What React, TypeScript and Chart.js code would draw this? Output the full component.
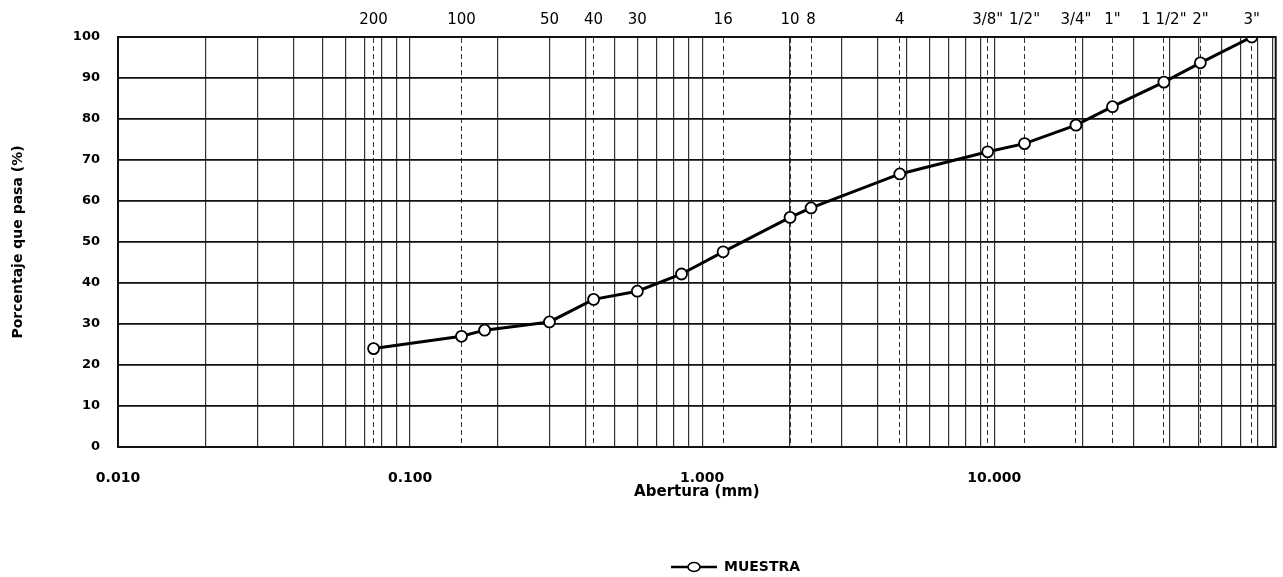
import React, { useEffect, useRef } from 'react';
import { Chart, registerables } from 'chart.js';

Chart.register(...registerables);

// Abertura del tamiz (mm) y porcentaje que pasa
const aperturaMm = [0.075, 0.15, 0.18, 0.3, 0.425, 0.6, 0.85, 1.18, 2.0, 2.36, 4.75, 9.5, 12.7, 19.05, 25.4, 38.1, 50.8, 76.2];
const porcentajePasa = [24, 27, 28.5, 30.5, 36, 38, 42.2, 47.6, 56, 58.3, 66.6, 72, 74, 78.5, 83, 89, 93.7, 100];

// Tamices (eje superior)
const sieveSizes = [0.075, 0.15, 0.3, 0.425, 0.6, 1.18, 2.0, 2.36, 4.75, 9.5, 12.7, 19.05, 25.4, 38.1, 50.8, 76.2];
const sieveLabels = ['200', '100', '50', '40', '30', '16', '10', '8', '4', '3/8"', '1/2"', '3/4"', '1"', '1 1/2"', '2"', '3"'];

// Ejes
const xLabelValues = [0.01, 0.1, 1, 10];
const yTickValues = [0, 10, 20, 30, 40, 50, 60, 70, 80, 90, 100];
const xMin = 0.01;
const xMax = 92;

const FONT = "'DejaVu Sans', 'Liberation Sans', Arial, sans-serif";

function logGridValues(min: number, max: number): number[] {
  const out: number[] = [];
  for (let e = -2; e <= 2; e++) {
    for (let m = 1; m <= 9; m++) {
      const v = Number((m * Math.pow(10, e)).toPrecision(3));
      if (v >= min - 1e-12 && v <= max) out.push(v);
    }
  }
  return out;
}

export default function App() {
  const canvasRef = useRef<HTMLCanvasElement | null>(null);

  useEffect(() => {
    const canvas = canvasRef.current;
    if (!canvas) return;

    // legend symbol: line with open circle
    const sym = document.createElement('canvas');
    sym.width = 46;
    sym.height = 12;
    const sctx = sym.getContext('2d')!;
    sctx.strokeStyle = '#000';
    sctx.lineWidth = 2.5;
    sctx.beginPath();
    sctx.moveTo(0, 6);
    sctx.lineTo(46, 6);
    sctx.stroke();
    sctx.beginPath();
    sctx.ellipse(23, 6, 6, 4.5, 0, 0, Math.PI * 2);
    sctx.fillStyle = '#fff';
    sctx.fill();
    sctx.lineWidth = 1.6;
    sctx.stroke();

    const frame = {
      id: 'frame',
      afterDatasetsDraw(chart: any) {
        const { ctx, chartArea } = chart;
        ctx.save();
        ctx.strokeStyle = '#111';
        ctx.lineWidth = 2;
        ctx.strokeRect(chartArea.left, chartArea.top, chartArea.right - chartArea.left, chartArea.bottom - chartArea.top);
        ctx.restore();
      },
    };

    const legendShift = {
      id: 'legendShift',
      afterLayout(chart: any) {
        const lg = chart.legend;
        if (!lg) return;
        lg.left += 94;
        lg.right += 94;
        lg.top += 7;
        lg.bottom += 7;
      },
    };

    const chart = new Chart(canvas, {
      type: 'line',
      data: {
        datasets: [
          {
            label: 'MUESTRA',
            data: aperturaMm.map((x, i) => ({ x, y: porcentajePasa[i] })),
            borderColor: '#000',
            borderWidth: 3,
            pointRadius: 5.5,
            pointBackgroundColor: '#fff',
            pointBorderColor: '#000',
            pointBorderWidth: 1.8,
            tension: 0,
            xAxisID: 'x',
            yAxisID: 'y',
          },
        ],
      },
      options: {
        animation: false,
        responsive: true,
        maintainAspectRatio: false,
        layout: { padding: { left: 0, right: 0, top: 0, bottom: 0 } },
        plugins: {
          legend: {
            position: 'bottom',
            labels: {
              usePointStyle: true,
              pointStyleWidth: 46,
              padding: 4,
              color: '#000',
              font: { family: FONT, size: 14, weight: 'bold' },
              generateLabels: () => [
                {
                  text: 'MUESTRA',
                  pointStyle: sym as any,
                  fillStyle: '#fff',
                  strokeStyle: '#000',
                  lineWidth: 0,
                  hidden: false,
                  datasetIndex: 0,
                  fontColor: '#000',
                } as any,
              ],
            },
          },
          tooltip: { enabled: false },
        },
        scales: {
          x: {
            type: 'logarithmic',
            position: 'bottom',
            min: xMin,
            max: xMax,
            afterBuildTicks: (scale: any) => {
              scale.ticks = logGridValues(xMin, xMax).map((v) => ({ value: v }));
            },
            afterFit: (scale: any) => {
              scale.height = 102;
            },
            ticks: {
              autoSkip: false,
              maxRotation: 0,
              padding: 3,
              color: '#000',
              font: { family: FONT, size: 14, weight: 'bold' },
              callback: (value: any) =>
                xLabelValues.some((v) => Math.abs(v - Number(value)) < 1e-9) ? Number(value).toFixed(3) : '',
            },
            grid: { color: '#333', lineWidth: 1.2, drawTicks: true, tickLength: 20, tickColor: 'rgba(0,0,0,0)' },
            border: { display: true, color: '#111', width: 2 },
            title: {
              display: true,
              text: 'Abertura (mm)',
              color: '#000',
              font: { family: FONT, size: 15, weight: 'bold' },
              padding: { top: 0, bottom: 48 },
            },
          },
          x2: {
            type: 'logarithmic',
            position: 'top',
            min: xMin,
            max: xMax,
            afterBuildTicks: (scale: any) => {
              scale.ticks = sieveSizes.map((v) => ({ value: v }));
            },
            afterFit: (scale: any) => {
              scale.height = 37;
            },
            ticks: {
              autoSkip: false,
              maxRotation: 0,
              padding: 8,
              color: '#000',
              font: { family: FONT, size: 15 },
              callback: (_v: any, i: number) => sieveLabels[i],
            },
            grid: { color: '#333', lineWidth: 1, drawTicks: false },
            border: { display: true, color: '#111', width: 2, dash: [5, 3] },
          },
          y: {
            type: 'linear',
            min: 0,
            max: 100,
            afterBuildTicks: (scale: any) => {
              scale.ticks = yTickValues.map((v) => ({ value: v }));
            },
            afterFit: (scale: any) => {
              scale.width = 118;
            },
            ticks: {
              padding: 18,
              color: '#000',
              font: { family: FONT, size: 13, weight: 'bold' },
            },
            grid: { color: '#111', lineWidth: 1.8, drawTicks: false },
            border: { display: true, color: '#111', width: 2 },
            title: {
              display: true,
              text: 'Porcentaje que pasa (%)',
              color: '#000',
              font: { family: FONT, size: 14, weight: 'bold' },
              padding: { top: 10, bottom: 0 },
            },
          },
        },
      } as any,
      plugins: [frame, legendShift],
    });

    return () => chart.destroy();
  }, []);

  return (
    <div style={{ position: 'absolute', left: 0, top: 0, width: 1283, height: 577, background: '#fff' }}>
      <canvas ref={canvasRef} />
    </div>
  );
}
